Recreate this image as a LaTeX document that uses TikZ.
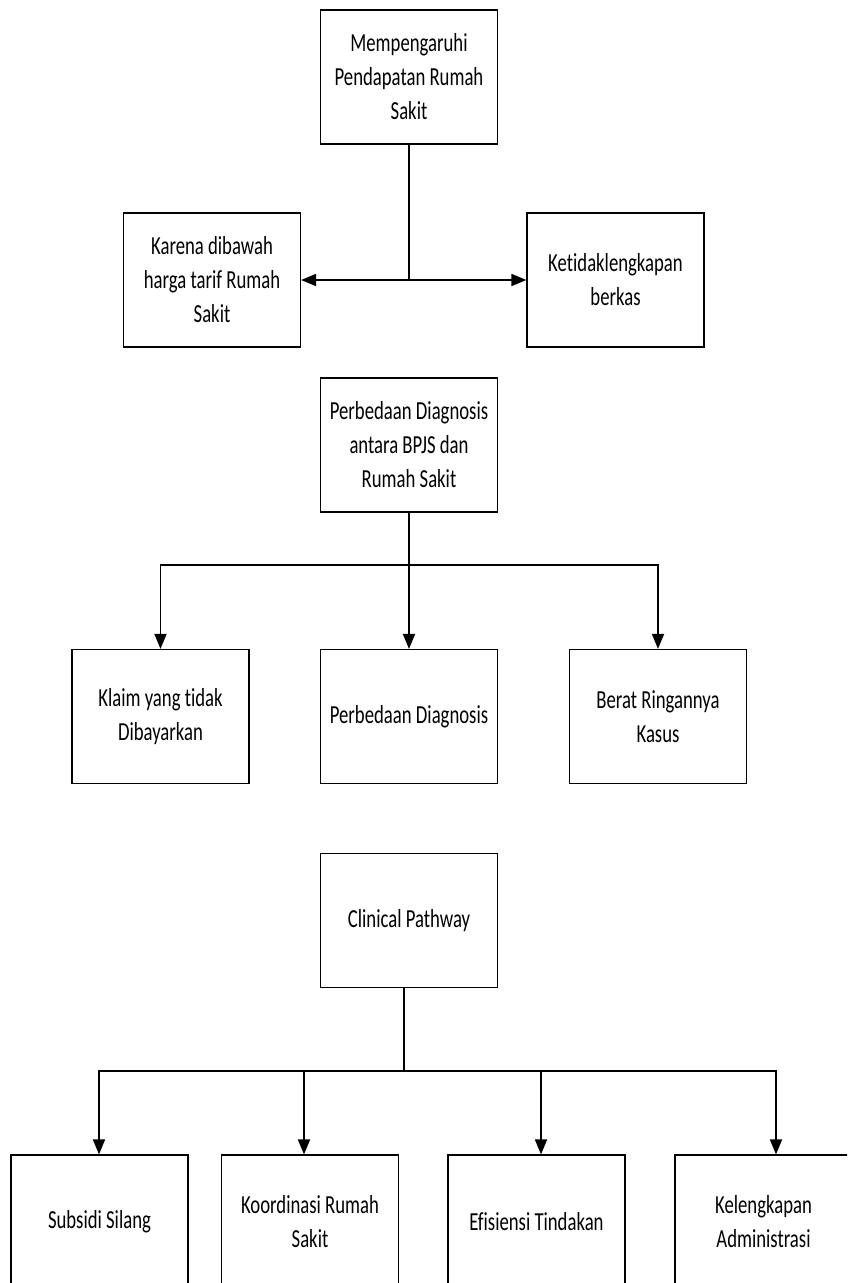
\documentclass[tikz,border=0pt]{standalone}
\usepackage{fontspec}
\setmainfont[FakeStretch=0.72,Ligatures=NoCommon]{Carlito}
\usetikzlibrary{arrows.meta}
\begin{document}
\begin{tikzpicture}[x=1pt,y=-1pt,
  box/.style={draw=black,line width=1.2pt,minimum width=177pt,minimum height=134pt,
    inner sep=0pt,align=center,font=\fontsize{26}{34}\selectfont},
  conn/.style={draw=black,line width=1.8pt},
  arr/.style={conn,-{Triangle[length=15pt,width=12pt]}}]
\useasboundingbox (0,0) rectangle (847,1283);
\clip (0,0) rectangle (847,1283);
\fill[white] (0,0) rectangle (847,1283);
% row 1
\node[box] (top) at (409,77) {Mempengaruhi\\Pendapatan Rumah\\Sakit};
\node[box] (karena) at (212,280) {Karena dibawah\\harga tarif Rumah\\Sakit};
\node[box] (ketid) at (615.5,280) {Ketidaklengkapan\\berkas};
% row 2
\node[box] (perb) at (409,445) {Perbedaan Diagnosis\\antara BPJS dan\\Rumah Sakit};
\node[box] (klaim) at (160.5,716.5) {Klaim yang tidak\\Dibayarkan};
\node[box] (perb2) at (409,716.5) {Perbedaan Diagnosis};
\node[box] (berat) at (658,716.5) {Berat Ringannya\\Kasus};
% row 3
\node[box] (clin) at (409,920.5) {Clinical Pathway};
\node[box] (subsidi) at (99.5,1222) {Subsidi Silang};
\node[box] (koord) at (310,1222) {Koordinasi Rumah\\Sakit};
\node[box] (efis) at (536.5,1222) {Efisiensi Tindakan};
\node[box] (kelen) at (763.5,1222) {Kelengkapan\\Administrasi};
% connectors 1
\coordinate (j1) at (409,280);
\draw[conn] (top.south) -- (j1);
\draw[arr] (j1) -- (karena.east);
\draw[arr] (j1) -- (ketid.west);
% connectors 2
\coordinate (j2) at (409,565);
\draw[conn] (perb.south) -- (j2);
\draw[arr] (j2) -| (klaim.north);
\draw[arr] (j2) -| (berat.north);
\draw[arr] (perb.south) -- (perb2.north);
% connectors 3
\coordinate (c0) at ([xshift=-5pt]clin.south);
\coordinate (j3) at (404,1071);
\draw[conn] (c0) -- (j3);
\draw[arr] (j3) -| ([xshift=-0.5pt]subsidi.north);
\draw[arr] (j3) -| ([xshift=-6pt]koord.north);
\draw[arr] (j3) -| ([xshift=4.5pt]efis.north);
\draw[arr] (j3) -| ([xshift=12.5pt]kelen.north);
\end{tikzpicture}
\end{document}
